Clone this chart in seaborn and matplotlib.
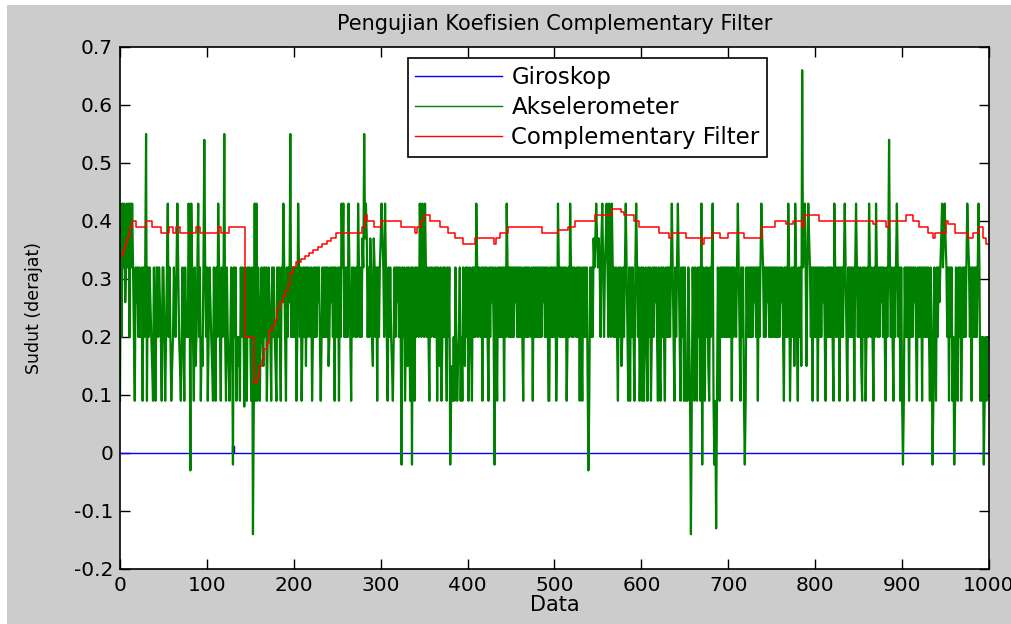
import numpy as np
import pandas as pd
import seaborn as sns
import matplotlib.pyplot as plt
from matplotlib.patches import Rectangle
from matplotlib.ticker import MultipleLocator, FuncFormatter

plt.rcParams["path.simplify"] = False

# accelerometer: one letter per sample, letters map to the levels
level_of = {"A": 0.20, "B": 0.26, "C": 0.32, "D": 0.43, "E": 0.15, "F": 0.09,
            "G": 0.37, "H": 0.55, "I": 0.54, "J": 0.66, "K": -0.02, "L": -0.03,
            "M": -0.14, "N": -0.13, "O": 0.08}
akselerometer_rows = [
    "FDADCDBCDCDADCDCAFCBCACAACFCACHFCACBAEFCAFCCACBAFC",
    "CAFACDACAFEACBACDCAEFACAFCABADCLDCAFCEACDACFAECICA",
    "CFACBAEFCAFCADCAFCABHAFCAEFACAKCACFAEAFCACBOCAFCAC",
    "AFCMFDFDFCAFBCAECACFACBAFCACAEFCACAFCBDCAFCACBHACA",
    "CACFADCACFACACECACBACFACACACBCAFACACACACEACBCACFCA",
    "ACFCADCDACACADCAFCACBACADCACAGCHGDGACAGCAEGCACFCAC",
    "GDGCADCAFCACAEFACACBCACAKCACFACECAFCKCAFCACBADCADC",
    "ADCACAFCACBACACFCAECFACACAFCACKFEFAFCAFEACFAFCAECA",
    "CFACAFCACADCACBACFCACACAFCACBCAKCAFCACACACFCADCACA",
    "CACACBCACACACAFCACACACBACFCACACACACACBCACACFFCACAC",
    "ACFADCACACACACFACADCACACBACACFCAFCACACELFCACAGCGDG",
    "CGCAGDCACGDCADCADCACACAFCACEACACDCAFCFCACAFCDCACFA",
    "CFCFACAFCACFACACBCAFCEFCACAFCACACACDCAFCACDCAFCACF",
    "CFEFCAFMFCAFCEFCACFDKCAFCACEFCACDFKFNFCAFCACACACAC",
    "ACACFCACBACDCAFCACFKFCACACACACBCACFCACDGCACACBCACA",
    "CACACACACACBCAFCACADCFACACEDCAFCACEJCGDCECDGCACFCA",
    "CACFCACACBCAFCACACACAFDCACACFCACACDCAFCACACACFCDCA",
    "CACEFCACFACADCACAFCADCACACBCACAFCACICACAFCACDCACFC",
    "FKFCACACFCACACBCAFCACACFCACACACAFCAKFCAFCACBCGDCGD",
    "GCACFCACFAKFCAFCACFACACACDGCACFCACACACDCFAFAKFAFAA",
]
akselerometer = [level_of[ch] for ch in "".join(akselerometer_rows)]

# complementary filter: sample index where the level changes, and the level
cf_idx = [0, 3, 6, 8, 10, 12, 14, 18, 30, 37, 47, 56, 61, 65, 69, 88, 92, 113, 116,
          125, 144, 154, 158, 160, 163, 166, 169, 172, 175, 178, 181, 184, 187, 190,
          193, 196, 199, 203, 208, 213, 217, 222, 228, 233, 238, 243, 248, 278, 282,
          284, 292, 300, 323, 339, 342, 346, 350, 357, 368, 378, 386, 395, 409, 430,
          433, 437, 447, 486, 496, 504, 516, 524, 547, 566, 576, 580, 592, 597, 620,
          632, 635, 651, 670, 672, 681, 690, 700, 718, 739, 754, 766, 775, 785, 787,
          804, 866, 870, 881, 885, 904, 912, 919, 930, 936, 938, 950, 953, 961, 976,
          982, 989, 993, 997, 999]
cf_val = [0.34, 0.35, 0.36, 0.37, 0.38, 0.39, 0.40, 0.39, 0.40, 0.39, 0.38, 0.39, 0.38,
          0.39, 0.38, 0.39, 0.38, 0.39, 0.38, 0.39, 0.20, 0.12, 0.13, 0.15, 0.16, 0.18,
          0.19, 0.21, 0.22, 0.23, 0.25, 0.26, 0.27, 0.28, 0.29, 0.31, 0.32, 0.33, 0.335,
          0.34, 0.345, 0.35, 0.355, 0.36, 0.365, 0.37, 0.38, 0.39, 0.41, 0.40, 0.39,
          0.40, 0.39, 0.38, 0.39, 0.40, 0.41, 0.40, 0.39, 0.38, 0.37, 0.36, 0.37, 0.36,
          0.37, 0.38, 0.39, 0.38, 0.38, 0.385, 0.39, 0.40, 0.41, 0.42, 0.415, 0.41,
          0.40, 0.39, 0.38, 0.37, 0.38, 0.37, 0.36, 0.37, 0.38, 0.37, 0.38, 0.37, 0.39,
          0.40, 0.395, 0.40, 0.39, 0.41, 0.40, 0.395, 0.40, 0.39, 0.40, 0.41, 0.40,
          0.39, 0.38, 0.37, 0.38, 0.40, 0.395, 0.38, 0.37, 0.38, 0.39, 0.37, 0.36, 0.36]

# gyroscope: flat zero with one tiny step
giro_idx = [0, 129, 131, 999]
giro_val = [0.0, 0.012, 0.0, 0.0]

fig = plt.figure(figsize=(10.12, 6.24), dpi=100, facecolor="white")
fig.patches.append(Rectangle((7 / 1012, 0), 1, 1 - 5 / 624, transform=fig.transFigure,
                             facecolor="#cccccc", edgecolor="none", zorder=-10))
ax = fig.add_axes([120 / 1012, 1 - 569 / 624, 869 / 1012, 522 / 624])

acc = pd.DataFrame({"Data": np.arange(len(akselerometer)), "Sudut": akselerometer})
sns.lineplot(x=giro_idx, y=giro_val, ax=ax, color="#0000ff", lw=1.0, label="Giroskop",
             drawstyle="steps-post", estimator=None, sort=False)
sns.lineplot(data=acc, x="Data", y="Sudut", ax=ax, color="#008000", lw=1.6,
             label="Akselerometer", estimator=None, sort=False)
sns.lineplot(x=cf_idx, y=cf_val, ax=ax, color="#ff0000", lw=1.1,
             label="Complementary Filter", drawstyle="steps-post", estimator=None, sort=False)

ax.set_xlim(0, 1000)
ax.set_ylim(-0.2, 0.7)
ax.xaxis.set_major_locator(MultipleLocator(100))
ax.yaxis.set_major_locator(MultipleLocator(0.1))
ax.yaxis.set_major_formatter(FuncFormatter(lambda v, p: f"{round(v, 1) + 0:g}"))
ax.tick_params(direction="in", length=7, width=1, top=True, right=True,
               labelsize=14.5, colors="black", pad=5)
for s in ax.spines.values():
    s.set_color("black")
    s.set_linewidth(1.2)

ax.set_title("Pengujian Koefisien Complementary Filter", fontsize=15, pad=12)
ax.set_xlabel("Data", fontsize=15, labelpad=0)
ax.set_ylabel("Sudut (derajat)", fontsize=12.5, labelpad=22)

leg = ax.legend(loc="upper left", bbox_to_anchor=(0.331, 0.979), fancybox=False,
                edgecolor="black", framealpha=1, fontsize=16.5, handlelength=3.8,
                labelspacing=0.32, borderpad=0.33, handletextpad=0.4, borderaxespad=0)
leg.get_frame().set_linewidth(1.2)
for h in leg.get_lines():
    h.set_linewidth(1.0)

fig.savefig("out.png", dpi=100, facecolor=fig.get_facecolor())
